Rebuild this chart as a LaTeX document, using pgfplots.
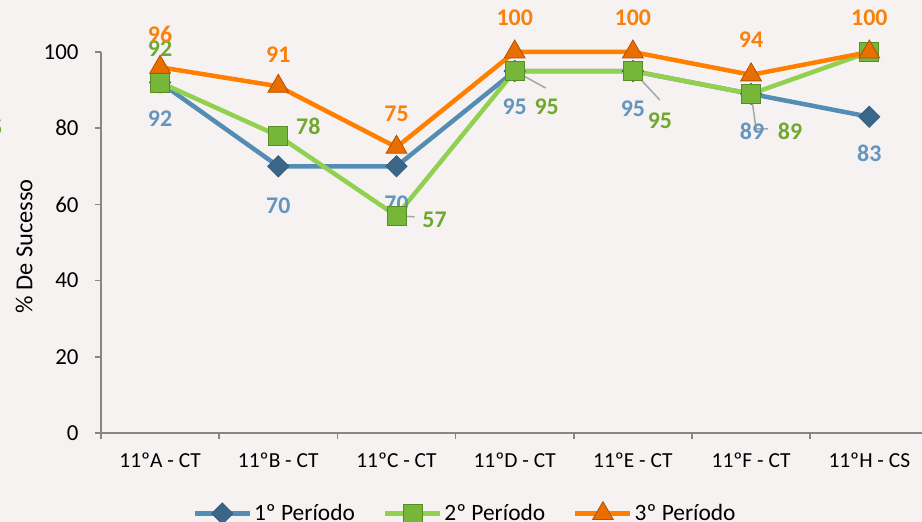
\documentclass[border=0pt]{standalone}
\usepackage{pgfplots}
\pgfplotsset{compat=1.18}
\usepackage{pgfplotstable}
\usepackage{fontspec}
\setmainfont{Carlito}

\definecolor{bg}{RGB}{247,242,242}
\definecolor{axisgray}{RGB}{134,134,134}
\definecolor{lead}{RGB}{166,166,166}
\definecolor{c1}{RGB}{84,141,180}
\definecolor{c1d}{RGB}{52,92,125}
\definecolor{c1l}{RGB}{98,150,190}
\definecolor{c2}{RGB}{146,208,80}
\definecolor{c2d}{RGB}{88,140,38}
\definecolor{c2m}{RGB}{118,182,56}
\definecolor{c2l}{RGB}{112,168,48}
\definecolor{c3}{RGB}{255,128,0}
\definecolor{c3d}{RGB}{180,80,0}
\definecolor{c3m}{RGB}{232,110,0}
\definecolor{c3l}{RGB}{250,128,10}

% x y dx dy (label offsets in px) lab
\pgfplotstableread{
x y dx dy lab
0 92 0 -36 92
1 70 0 -39 70
2 70 0 -37 70
3 95 0 -36 95
4 95 0 -38 95
5 89 1 -37 89
6 83 0 -37 83
}\perone
\pgfplotstableread{
x y dx dy lab
0 92 0 34 92
1 78 30 9 78
2 57 38 -4 57
3 95 32 -36 95
4 95 27 -50 95
5 89 39 -37 89
6 100 0 0 {}
}\pertwo
\pgfplotstableread{
x y dx dy lab
0 96 0 33 96
1 91 0 32 91
2 75 0 33 75
3 100 0 34 100
4 100 0 34 100
5 94 0 35 94
6 100 0 34 100
}\perthree

\begin{document}
\begin{tikzpicture}
\useasboundingbox (0bp,0bp) rectangle (922bp,522bp);
\fill[bg] (0bp,0bp) rectangle (922bp,522bp);
\clip (0bp,0bp) rectangle (922bp,522bp);
\node[anchor=east, text=c2l, font=\fontsize{24}{28}\selectfont\bfseries] at (6bp,394bp) {95};
\begin{axis}[
    at={(101bp,89bp)}, anchor=south west,
    scale only axis, width=827.4bp, height=381bp,
    clip=false,
    xmin=-0.5, xmax=6.5, ymin=0, ymax=100,
    axis x line*=bottom, axis y line*=left,
    axis line style={axisgray, line width=1.5bp},
    tick style={axisgray, line width=1.5bp},
    tick align=outside,
    major tick length=6bp, minor tick length=6bp,
    xtick={0,...,6},
    xticklabels={11ºA - CT,11ºB - CT,11ºC - CT,11ºD - CT,11ºE - CT,11ºF - CT,11ºH - CS},
    minor xtick={-0.5,0.5,...,6.5},
    major x tick style={draw=none},
    ytick={0,20,...,100},
    xticklabel style={font=\fontsize{21.5}{26}\selectfont, yshift=-10bp},
    yticklabel style={font=\fontsize{23}{27}\selectfont, xshift=-13bp},
    /pgf/number format/assume math mode=true,
    ylabel={\% De Sucesso},
    ylabel style={at={(axis description cs:-0.093,0.49)}, anchor=center,
        font=\fontsize{24.5}{28}\selectfont},
    legend style={at={(axis description cs:0.4400,-0.21)}, anchor=center,
        draw=none, fill=none, legend columns=3,
        font=\fontsize{23.5}{27}\selectfont,
        /tikz/every even column/.append style={column sep=26bp}},
    legend image code/.code={
        \draw[mark repeat=2, mark phase=2, #1]
        plot coordinates {(0bp,0bp) (27.5bp,0bp) (55bp,0bp)};},
    nodes near coords,
    point meta=explicit symbolic,
    visualization depends on={\thisrow{dx} \as \dx},
    visualization depends on={\thisrow{dy} \as \dy},
    every node near coord/.append style={anchor=center,
        xshift=\dx bp, yshift=\dy bp,
        font=\fontsize{24}{28}\selectfont\bfseries},
]
\addplot[c1, line width=4.5bp, mark=square*, mark size=7.5bp,
    mark options={rotate=45, fill=c1d!80!c1, draw=c1d, line width=0.8bp},
    every node near coord/.append style={text=c1l}]
    table[x=x, y=y, meta=lab] {\perone};
\addlegendentry{1º Período}
\addplot[c2, line width=4.5bp, mark=square*, mark size=9.5bp,
    mark options={fill=c2m, draw=c2d, line width=0.8bp},
    every node near coord/.append style={text=c2l}]
    table[x=x, y=y, meta=lab] {\pertwo};
\addlegendentry{2º Período}
\addplot[c3, line width=4.5bp, mark=triangle*, mark size=12bp,
    mark options={fill=c3m, draw=c3d, line width=0.8bp},
    every node near coord/.append style={text=c3l}]
    table[x=x, y=y, meta=lab] {\perthree};
\addlegendentry{3º Período}
% leader lines of the green labels
\draw[lead, line width=1.5bp] (axis cs:2,57) -- ++(18bp,-1bp);
\draw[lead, line width=1.5bp] (axis cs:3,95) -- ++(31bp,-17bp);
\draw[lead, line width=1.5bp] (axis cs:4,95) -- ++(27bp,-29bp);
\draw[lead, line width=1.5bp] (axis cs:5,89) -- ++(5bp,-35bp) -- ++(12bp,0bp);
\end{axis}
\end{tikzpicture}
\end{document}
